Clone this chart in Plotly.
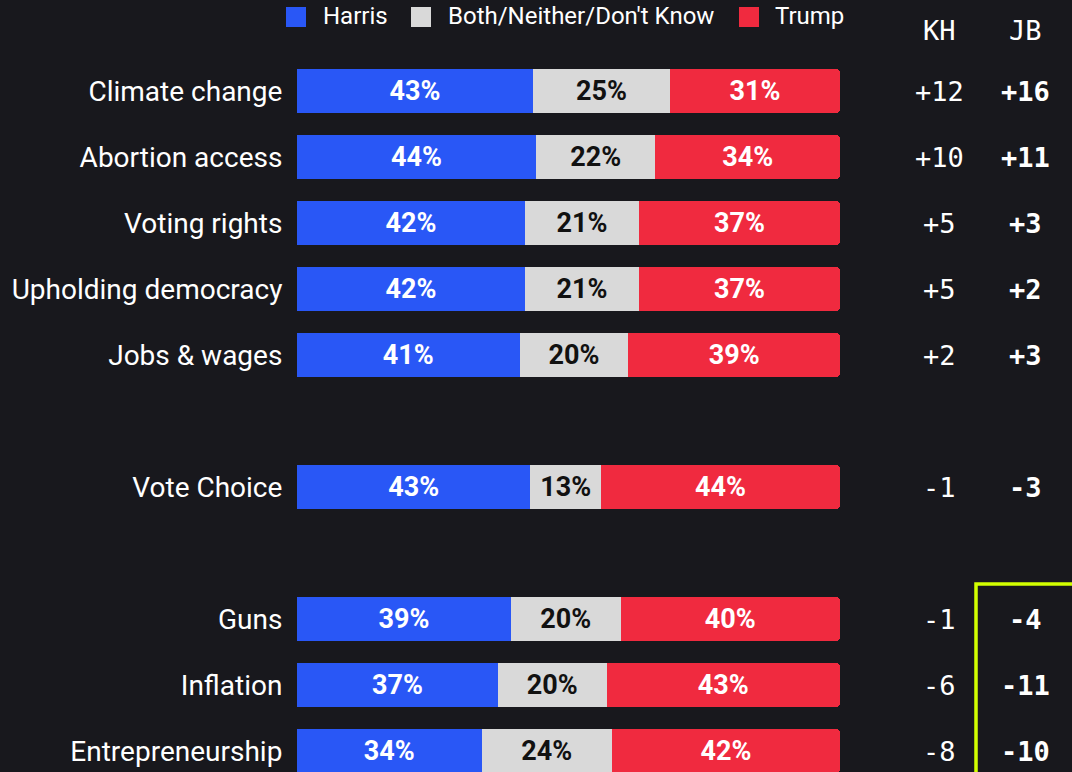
import plotly.graph_objects as go

# Issue ownership: share who trusts Harris / neither / Trump more, by topic
categories = ["Climate change", "Abortion access", "Voting rights", "Upholding democracy",
              "Jobs & wages", "Vote Choice", "Guns", "Inflation", "Entrepreneurship"]
harris = [43, 44, 42, 42, 41, 43, 39, 37, 34]
neither = [25, 22, 21, 21, 20, 13, 20, 20, 24]
trump = [31, 34, 37, 37, 39, 44, 40, 43, 42]
kh_margin = ["+12", "+10", "+5", "+5", "+2", "-1", "-1", "-6", "-8"]
jb_margin = ["+16", "+11", "+3", "+2", "+3", "-3", "-4", "-11", "-10"]
column_heads = ["KH", "JB"]
series_names = ["Harris", "Both/Neither/Don't Know", "Trump"]

BG = "#18181d"
BLUE = "#2957f6"
GREY = "#d9d9d9"
RED = "#f02a3f"
LIME = "#d2ff00"
colors = [BLUE, GREY, RED]
text_colors = ["white", "#111111", "white"]

# blank rows separate the issue groups from the headline vote question
row_order = categories[:5] + [" "] + [categories[5]] + ["  "] + categories[6:]

fig = go.Figure()
for name, vals, color, tcolor in zip(series_names, [harris, neither, trump], colors, text_colors):
    fig.add_trace(go.Bar(
        y=categories, x=vals, name=name, orientation="h",
        marker=dict(color=color, line=dict(width=0)),
        text=[f"{v}%" for v in vals], textposition="inside",
        insidetextanchor="middle", textangle=0,
        textfont=dict(family="Roboto", size=27, color=tcolor, weight="bold"),
        hoverinfo="skip",
    ))

W, H = 1072, 772
annotations = []
shapes = []

# legend row: coloured swatch + label
legend_x = [(286, 321), (411, 446), (739, 773)]
for name, color, (sx, tx) in zip(series_names, colors, legend_x):
    shapes.append(dict(type="rect", xref="paper", yref="paper",
                       x0=sx / W, x1=(sx + 20) / W, y0=1 - 27 / H, y1=1 - 7 / H,
                       fillcolor=color, line=dict(width=0)))
    annotations.append(dict(text=name, xref="paper", yref="paper", x=tx / W, y=1 - 16 / H,
                            showarrow=False, xanchor="left", yanchor="middle",
                            font=dict(family="Roboto", size=24, color="white")))

# margin columns on the right
for head, xpix in zip(column_heads, [939, 1025]):
    annotations.append(dict(text=head, xref="paper", yref="paper", x=xpix / W, y=1 - 30 / H,
                            showarrow=False, xanchor="center", yanchor="middle",
                            font=dict(family="DejaVu Sans Mono", size=27, color="white")))
for cat, kh, jb in zip(categories, kh_margin, jb_margin):
    annotations.append(dict(text=kh, xref="paper", yref="y", x=939 / W, y=cat,
                            showarrow=False, xanchor="center", yanchor="middle",
                            font=dict(family="DejaVu Sans Mono", size=27, color="white")))
    annotations.append(dict(text=f"<b>{jb}</b>", xref="paper", yref="y", x=1025 / W, y=cat,
                            showarrow=False, xanchor="center", yanchor="middle",
                            font=dict(family="DejaVu Sans Mono", size=27, color="white")))

# highlight box around the JB figures of the lower group
shapes.append(dict(type="rect", xref="paper", yref="paper",
                   x0=976 / W, x1=1.1, y0=-0.1, y1=1 - 584 / H,
                   line=dict(color=LIME, width=3.5), fillcolor="rgba(0,0,0,0)"))

fig.update_layout(
    width=W, height=H,
    margin=dict(l=0, r=0, t=0, b=0),
    paper_bgcolor=BG, plot_bgcolor=BG,
    barmode="stack", barnorm="percent", bargap=0.33, barcornerradius=4,
    font=dict(family="Roboto", color="white"),
    showlegend=False,
    xaxis=dict(domain=[297 / W, 840 / W], range=[0, 100], visible=False, fixedrange=True),
    yaxis=dict(type="category", categoryorder="array", categoryarray=row_order,
               range=[(H - 91) / 66, -91 / 66],
               showgrid=False, zeroline=False, showline=False,
               ticks="outside", ticklen=8, tickcolor="rgba(0,0,0,0)",
               tickfont=dict(family="Roboto", size=28, color="white")),
    annotations=annotations,
    shapes=shapes,
)

fig.write_html("out.html")
